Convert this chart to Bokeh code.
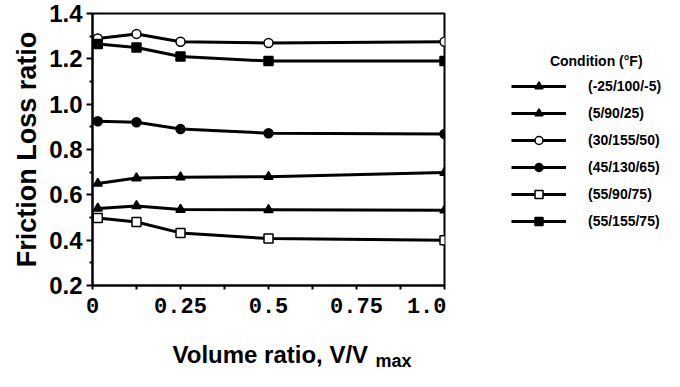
import numpy as np
from bokeh.plotting import figure
from bokeh.models import (Range1d, FixedTicker, CustomJSTickFormatter,
                          Legend, LegendItem, Label)
from bokeh.layouts import row, column
from bokeh.embed import file_html
from bokeh.resources import INLINE

# ---- data ----
volume_ratio = [0.015, 0.125, 0.25, 0.5, 1.0]
conditions = ["(-25/100/-5)", "(5/90/25)", "(30/155/50)", "(45/130/65)", "(55/90/75)", "(55/155/75)"]
fl_m25_100_m5 = [0.650, 0.674, 0.678, 0.680, 0.698]
fl_5_90_25 = [0.540, 0.551, 0.535, 0.534, 0.532]
fl_30_155_50 = [1.290, 1.310, 1.275, 1.270, 1.275]
fl_45_130_65 = [0.925, 0.920, 0.890, 0.872, 0.868]
fl_55_90_75 = [0.498, 0.480, 0.432, 0.407, 0.400]
fl_55_155_75 = [1.265, 1.250, 1.210, 1.190, 1.190]
x_ticks = [0, 0.25, 0.5, 0.75, 1.0]
x_minor = [0.125, 0.375, 0.625, 0.875]
y_ticks = [0.2, 0.4, 0.6, 0.8, 1.0, 1.2, 1.4]
y_minor = [0.3, 0.5, 0.7, 0.9, 1.1, 1.3]

series = [fl_m25_100_m5, fl_5_90_25, fl_30_155_50, fl_45_130_65, fl_55_90_75, fl_55_155_75]
markers = ["triangle", "triangle", "circle", "circle", "square", "square"]
fills = ["black", "black", "white", "black", "white", "black"]

FONT = "Liberation Sans"
TOP_H = 335

p = figure(width=446, height=TOP_H, output_backend="svg", toolbar_location=None,
           x_range=Range1d(0, 1.0), y_range=Range1d(0.2, 1.4),
           min_border_left=92, min_border_right=2, min_border_top=13, min_border_bottom=50)
p.xgrid.visible = False
p.ygrid.visible = False
p.outline_line_color = "black"
p.outline_line_width = 2
p.background_fill_color = "white"
p.border_fill_color = "white"

for vals, mk, fc in zip(series, markers, fills):
    p.line(volume_ratio, vals, line_color="black", line_width=3)
    p.scatter(volume_ratio, vals, marker=mk, size=9, line_color="black",
              line_width=1.5, fill_color=fc)

# axes
xa = p.xaxis[0]
xa.ticker = FixedTicker(ticks=x_ticks, minor_ticks=x_minor)
xa.formatter = CustomJSTickFormatter(code="""
const m = {'0':'0','0.25':'0.25','0.5':'0.5','0.75':'0.75','1':'1.0'};
const k = String(tick);
return (k in m) ? m[k] : tick.toFixed(2);
""")
xa.axis_line_width = 2
xa.major_tick_line_width = 2
xa.minor_tick_line_width = 2
xa.major_tick_in = 0
xa.major_tick_out = 4
xa.minor_tick_in = 0
xa.minor_tick_out = 4
xa.major_label_text_font = "Liberation Mono"
xa.major_label_text_font_style = "bold"
xa.major_label_text_font_size = "22px"
xa.major_label_standoff = 8
xa.major_label_text_color = "black"

ya = p.yaxis[0]
ya.ticker = FixedTicker(ticks=y_ticks, minor_ticks=y_minor)
ya.formatter = CustomJSTickFormatter(code="return tick.toFixed(1);")
ya.axis_line_width = 2
ya.major_tick_line_width = 2
ya.minor_tick_line_width = 2
ya.major_tick_in = 0
ya.major_tick_out = 6
ya.minor_tick_in = 0
ya.minor_tick_out = 3
ya.major_label_text_font = FONT
ya.major_label_text_font_style = "bold"
ya.major_label_text_font_size = "24px"
ya.major_label_standoff = 4
ya.major_label_text_color = "black"
ya.axis_label = "Friction Loss ratio"
ya.axis_label_text_font = FONT
ya.axis_label_text_font_style = "bold"
ya.axis_label_text_font_size = "27px"
ya.axis_label_standoff = 4
ya.axis_label_text_color = "black"

# legend panel (separate figure to the right)
q = figure(width=218, height=TOP_H, output_backend="svg", toolbar_location=None,
           x_range=Range1d(0, 1), y_range=Range1d(0, 1), x_axis_type=None, y_axis_type=None,
           min_border_left=25, min_border_right=0, min_border_top=0, min_border_bottom=0)
q.xgrid.visible = False
q.ygrid.visible = False
q.outline_line_color = None
q.background_fill_color = "white"
q.border_fill_color = "white"

nan = np.array([np.nan])
items = []
for name, mk, fc in zip(conditions, markers, fills):
    r1 = q.line(x=nan, y=nan, line_color="black", line_width=3)
    r2 = q.scatter(x=nan, y=nan, marker=mk, size=9, line_color="black",
                   line_width=1.5, fill_color=fc)
    items.append(LegendItem(label=name, renderers=[r1, r2]))

legend = Legend(items=items, location="top_left", padding=0, margin=40,
                title="\u00a0" * 10 + "Condition (°F)", title_standoff=7,
                title_text_font=FONT, title_text_font_style="bold",
                title_text_font_size="14px", title_text_color="black",
                glyph_width=55, glyph_height=20, label_height=20, spacing=7,
                label_standoff=22, border_line_color=None, background_fill_alpha=0,
                label_text_font=FONT, label_text_font_style="bold",
                label_text_font_size="14px", label_text_color="black")
q.add_layout(legend, "center")

# x axis title strip (with subscript) below the plot
r = figure(width=664, height=371 - TOP_H, output_backend="svg", toolbar_location=None,
           x_range=Range1d(0, 1), y_range=Range1d(0, 1), x_axis_type=None, y_axis_type=None,
           min_border_left=0, min_border_right=0, min_border_top=0, min_border_bottom=0)
r.xgrid.visible = False
r.ygrid.visible = False
r.outline_line_color = None
r.background_fill_color = "white"
r.border_fill_color = "white"
r.add_layout(Label(x=172, y=17, x_units="screen", y_units="screen", text="Volume ratio, V/V",
                   text_font=FONT, text_font_style="bold", text_font_size="24px",
                   text_baseline="middle", text_color="black"))
r.add_layout(Label(x=375, y=11, x_units="screen", y_units="screen", text="max",
                   text_font=FONT, text_font_style="bold", text_font_size="18px",
                   text_baseline="middle", text_color="black"))

open("out.html", "w").write(file_html(column(row(p, q), r), INLINE))
